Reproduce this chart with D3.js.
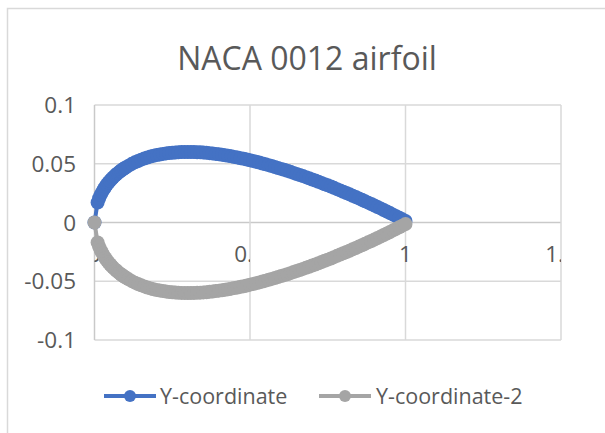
<!DOCTYPE html>
<html>
<head>
<meta charset="utf-8">
<script src="https://cdn.jsdelivr.net/npm/d3@7/dist/d3.min.js"></script>
<style>
  html, body { margin: 0; padding: 0; background: #fff; }
  svg { display: block; }
  text { font-family: "Open Sans", "Liberation Sans", sans-serif; fill: #595959; }
</style>
</head>
<body>
<svg id="chart" width="605" height="433"></svg>
<script>
// Chord stations (x/c) shared by both surfaces, denser near the leading edge
const xStations = [0.000, 0.010, 0.015, 0.020, 0.025, 0.030, 0.035, 0.040, 0.045, 0.050,
  0.055, 0.060, 0.065, 0.070, 0.075, 0.080, 0.085, 0.090, 0.095,
  0.10, 0.11, 0.12, 0.13, 0.14, 0.15, 0.16, 0.17, 0.18, 0.19,
  0.20, 0.21, 0.22, 0.23, 0.24, 0.25, 0.26, 0.27, 0.28, 0.29,
  0.30, 0.31, 0.32, 0.33, 0.34, 0.35, 0.36, 0.37, 0.38, 0.39,
  0.40, 0.41, 0.42, 0.43, 0.44, 0.45, 0.46, 0.47, 0.48, 0.49,
  0.50, 0.51, 0.52, 0.53, 0.54, 0.55, 0.56, 0.57, 0.58, 0.59,
  0.60, 0.61, 0.62, 0.63, 0.64, 0.65, 0.66, 0.67, 0.68, 0.69,
  0.70, 0.71, 0.72, 0.73, 0.74, 0.75, 0.76, 0.77, 0.78, 0.79,
  0.80, 0.81, 0.82, 0.83, 0.84, 0.85, 0.86, 0.87, 0.88, 0.89,
  0.90, 0.91, 0.92, 0.93, 0.94, 0.95, 0.96, 0.97, 0.98, 0.99,
  1.00];

// Upper surface (Y-coordinate)
const yUpper = [0, 0.0170, 0.0206, 0.0236, 0.0261, 0.0284, 0.0304, 0.0323, 0.0340, 0.0355,
  0.0370, 0.0384, 0.0397, 0.0409, 0.0420, 0.0431, 0.0441, 0.0451, 0.0460,
  0.0468, 0.0484, 0.0499, 0.0512, 0.0524, 0.0535, 0.0544, 0.0553, 0.0561, 0.0568,
  0.0574, 0.0579, 0.0584, 0.0588, 0.0591, 0.0594, 0.0596, 0.0598, 0.0599, 0.0600,
  0.0600, 0.0600, 0.0599, 0.0598, 0.0597, 0.0595, 0.0593, 0.0590, 0.0587, 0.0584,
  0.0580, 0.0576, 0.0572, 0.0568, 0.0563, 0.0558, 0.0553, 0.0547, 0.0542, 0.0536,
  0.0529, 0.0523, 0.0516, 0.0510, 0.0502, 0.0495, 0.0488, 0.0480, 0.0472, 0.0464,
  0.0456, 0.0448, 0.0440, 0.0431, 0.0422, 0.0413, 0.0404, 0.0395, 0.0386, 0.0376,
  0.0366, 0.0357, 0.0347, 0.0337, 0.0326, 0.0316, 0.0306, 0.0295, 0.0284, 0.0273,
  0.0262, 0.0251, 0.0240, 0.0228, 0.0217, 0.0205, 0.0193, 0.0181, 0.0169, 0.0157,
  0.0145, 0.0132, 0.0120, 0.0107, 0.0094, 0.0081, 0.0067, 0.0054, 0.0040, 0.0027,
  0.0013];

// Lower surface (Y-coordinate-2)
const yLower = [0, -0.0170, -0.0206, -0.0236, -0.0261, -0.0284, -0.0304, -0.0323, -0.0340, -0.0355,
  -0.0370, -0.0384, -0.0397, -0.0409, -0.0420, -0.0431, -0.0441, -0.0451, -0.0460,
  -0.0468, -0.0484, -0.0499, -0.0512, -0.0524, -0.0535, -0.0544, -0.0553, -0.0561, -0.0568,
  -0.0574, -0.0579, -0.0584, -0.0588, -0.0591, -0.0594, -0.0596, -0.0598, -0.0599, -0.0600,
  -0.0600, -0.0600, -0.0599, -0.0598, -0.0597, -0.0595, -0.0593, -0.0590, -0.0587, -0.0584,
  -0.0580, -0.0576, -0.0572, -0.0568, -0.0563, -0.0558, -0.0553, -0.0547, -0.0542, -0.0536,
  -0.0529, -0.0523, -0.0516, -0.0510, -0.0502, -0.0495, -0.0488, -0.0480, -0.0472, -0.0464,
  -0.0456, -0.0448, -0.0440, -0.0431, -0.0422, -0.0413, -0.0404, -0.0395, -0.0386, -0.0376,
  -0.0366, -0.0357, -0.0347, -0.0337, -0.0326, -0.0316, -0.0306, -0.0295, -0.0284, -0.0273,
  -0.0262, -0.0251, -0.0240, -0.0228, -0.0217, -0.0205, -0.0193, -0.0181, -0.0169, -0.0157,
  -0.0145, -0.0132, -0.0120, -0.0107, -0.0094, -0.0081, -0.0067, -0.0054, -0.0040, -0.0027,
  -0.0013];

const seriesNames = ["Y-coordinate", "Y-coordinate-2"];
const seriesColors = ["#4472C4", "#A5A5A5"];
const xTicks = [0, 0.5, 1, 1.5];
const yTicks = [-0.1, -0.05, 0, 0.05, 0.1];
const title = "NACA 0012 airfoil";

const svg = d3.select("#chart");

// chart area frame
svg.append("rect")
  .attr("x", 7.5).attr("y", 8.5)
  .attr("width", 700).attr("height", 500)
  .attr("fill", "#fff").attr("stroke", "#d9d9d9").attr("stroke-width", 1.5);

const x = d3.scaleLinear().domain([0, 1.5]).range([94.5, 561]);
const y = d3.scaleLinear().domain([-0.1, 0.1]).range([340, 105]);

// title
svg.append("text")
  .attr("x", 307).attr("y", 70)
  .attr("text-anchor", "middle")
  .style("font-size", "32px")
  .text(title);

// gridlines
const grid = svg.append("g");
grid.selectAll("line.h").data(yTicks).join("line")
  .attr("x1", x(0)).attr("x2", x(1.5))
  .attr("y1", d => y(d)).attr("y2", d => y(d))
  .attr("stroke", d => d === 0 ? "#c9c9c9" : "#d9d9d9").attr("stroke-width", 1.5);
grid.selectAll("line.v").data(xTicks).join("line")
  .attr("y1", y(-0.1)).attr("y2", y(0.1))
  .attr("x1", d => x(d)).attr("x2", d => x(d))
  .attr("stroke", d => d === 0 ? "#c9c9c9" : "#d9d9d9").attr("stroke-width", 1.5);

// y axis labels
const fmt = d => String(d);
svg.append("g").selectAll("text").data(yTicks).join("text")
  .attr("x", 76).attr("y", d => y(d))
  .attr("text-anchor", "end").attr("dy", "0.36em")
  .style("font-size", "22.5px")
  .text(fmt);

// x axis labels sit just below the horizontal axis, clipped to their cells
const defs = svg.append("defs");
xTicks.forEach((v, i) => {
  const left = x(0);
  const right = Number.isInteger(v) ? x(1.5) + 20 : x(v);
  defs.append("clipPath").attr("id", "xl" + i)
    .append("rect").attr("x", left).attr("y", 230)
    .attr("width", right - left).attr("height", 40);
});
svg.append("g").selectAll("text").data(xTicks).join("text")
  .attr("clip-path", (d, i) => `url(#xl${i})`)
  .attr("x", d => x(d)).attr("y", y(0) + 31)
  .attr("text-anchor", "middle").attr("dy", "0.36em")
  .style("font-size", "22.5px")
  .text(fmt);

// series: connecting line, then markers
const series = [yUpper, yLower];
const line = d3.line().x(d => x(d[0])).y(d => y(d[1]));
series.forEach((ys, s) => {
  const pts = xStations.map((xv, i) => [xv, ys[i]]);
  const g = svg.append("g");
  g.append("path").datum(pts)
    .attr("d", line)
    .attr("fill", "none").attr("stroke", seriesColors[s])
    .attr("stroke-width", 4).attr("stroke-linejoin", "round");
  g.selectAll("circle").data(pts).join("circle")
    .attr("cx", d => x(d[0])).attr("cy", d => y(d[1]))
    .attr("r", 7).attr("fill", seriesColors[s]);
});

// legend
const legend = svg.append("g");
const legendItems = [{ x0: 104, tx: 160 }, { x0: 319, tx: 376 }];
legendItems.forEach((it, i) => {
  legend.append("line")
    .attr("x1", it.x0).attr("x2", it.x0 + 52)
    .attr("y1", 396).attr("y2", 396)
    .attr("stroke", seriesColors[i]).attr("stroke-width", 4);
  legend.append("circle")
    .attr("cx", it.x0 + 26).attr("cy", 396).attr("r", 6)
    .attr("fill", seriesColors[i]);
  legend.append("text")
    .attr("x", it.tx).attr("y", 396).attr("dy", "0.36em")
    .style("font-size", "21.5px")
    .text(seriesNames[i]);
});
</script>
</body>
</html>
